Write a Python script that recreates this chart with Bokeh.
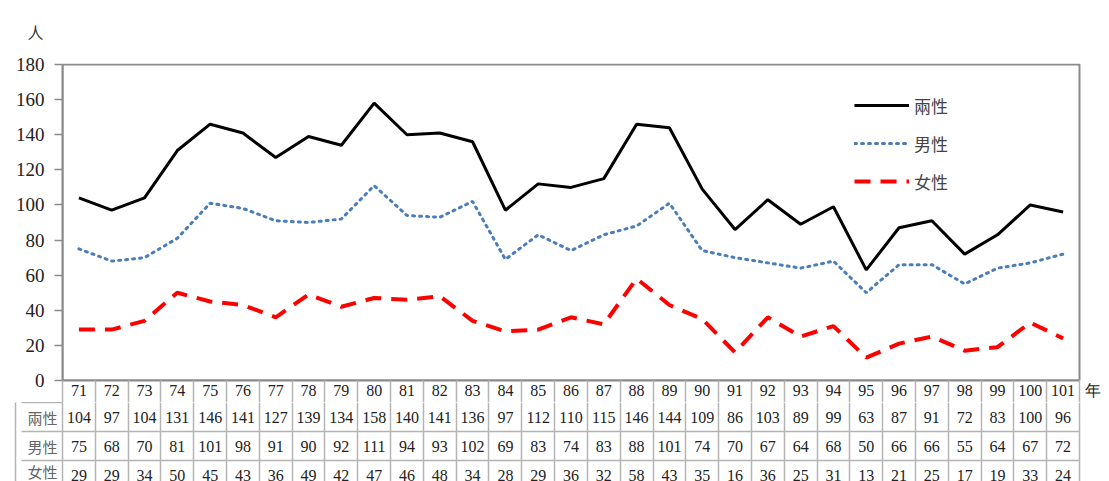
from bokeh.plotting import figure
from bokeh.models import Range1d, FixedTicker, ColumnDataSource, Legend, LegendItem, Grid, LinearAxis
from bokeh.layouts import column
from bokeh.embed import file_html
from bokeh.resources import INLINE
from bokeh.core.properties import value

# ---- data ----
years = ["71", "72", "73", "74", "75", "76", "77", "78", "79", "80", "81", "82", "83", "84", "85",
         "86", "87", "88", "89", "90", "91", "92", "93", "94", "95", "96", "97", "98", "99", "100", "101"]
both = [104, 97, 104, 131, 146, 141, 127, 139, 134, 158, 140, 141, 136, 97, 112,
        110, 115, 146, 144, 109, 86, 103, 89, 99, 63, 87, 91, 72, 83, 100, 96]
male = [75, 68, 70, 81, 101, 98, 91, 90, 92, 111, 94, 93, 102, 69, 83,
        74, 83, 88, 101, 74, 70, 67, 64, 68, 50, 66, 66, 55, 64, 67, 72]
female = [29, 29, 34, 50, 45, 43, 36, 49, 42, 47, 46, 48, 34, 28, 29,
          36, 32, 58, 43, 35, 16, 36, 25, 31, 13, 21, 25, 17, 19, 33, 24]
series_names = ["兩性", "男性", "女性"]
y_ticks = [0, 20, 40, 60, 80, 100, 120, 140, 160, 180]
y_unit = "人"
x_unit = "年"

# ---- layout constants (pixels) ----
W = 1109
PLOT_L, PLOT_R, PLOT_T, PLOT_B = 62, 1079, 64, 380
FRAME_T = PLOT_T - 1
YEAR_ROW = 22
MAIN_H = PLOT_B + YEAR_ROW
TABLE_H = 481 - MAIN_H
ROW_H = 29
LABEL_L = 21
N = len(years)
scale = (PLOT_R - PLOT_L) / N
x_end = N + (W - PLOT_R) / scale
y_max = y_ticks[-1]
y_end = y_max * (PLOT_B - FRAME_T) / (PLOT_B - PLOT_T)
serif = "Liberation Serif"
cjk = "Noto Sans CJK TC"
frame_col = "#8a8a8a"
grid_col = "#b4b4b4"
text_col = "#222222"

xs = [i + 0.5 for i in range(N)]
src = ColumnDataSource(dict(x=xs, both=both, male=male, female=female))

p = figure(width=W, height=MAIN_H, output_backend="svg", toolbar_location=None,
           x_range=Range1d(0, x_end), y_range=Range1d(0, y_end),
           min_border_left=PLOT_L, min_border_right=0, min_border_top=FRAME_T,
           min_border_bottom=YEAR_ROW)
p.grid.visible = False
p.outline_line_color = None

# plot-area box
p.quad(left=[0], right=[N], bottom=[0], top=[y_max], fill_color=None,
       line_color=frame_col, line_width=2)

# y axis
p.yaxis.ticker = FixedTicker(ticks=y_ticks)
p.yaxis.bounds = (0, y_max)
p.yaxis.axis_line_color = frame_col
p.yaxis.axis_line_width = 2
p.yaxis.major_tick_line_color = frame_col
p.yaxis.major_tick_line_width = 1.5
p.yaxis.major_tick_out = 8
p.yaxis.major_tick_in = 0
p.yaxis.minor_tick_line_color = None
p.yaxis.major_label_text_font = serif
p.yaxis.major_label_text_font_size = "19px"
p.yaxis.major_label_text_color = text_col
p.yaxis.major_label_standoff = 10

# x axis = year row of the table (plus the unit label at its right end)
x_unit_pos = N + (1092 - PLOT_R) / scale
p.xaxis.ticker = FixedTicker(ticks=xs + [x_unit_pos], minor_ticks=list(range(N + 1)))
overrides = {x: y for x, y in zip(xs, years)}
overrides[x_unit_pos] = x_unit
p.xaxis.major_label_overrides = overrides
p.xaxis.bounds = (0, N)
p.xaxis.major_tick_out = 0
p.xaxis.major_tick_in = 0
p.xaxis.minor_tick_out = YEAR_ROW
p.xaxis.minor_tick_in = 0
p.xaxis.minor_tick_line_color = grid_col
p.xaxis.minor_tick_line_width = 1.5
p.xaxis.axis_line_color = frame_col
p.xaxis.axis_line_width = 2
p.xaxis.major_label_text_font = serif
p.xaxis.major_label_text_font_size = "16px"
p.xaxis.major_label_text_color = text_col
p.xaxis.major_label_standoff = -YEAR_ROW + 1

r1 = p.line("x", "both", source=src, line_color="black", line_width=3)
r2 = p.line("x", "male", source=src, line_color="#4a7ebb", line_width=3, line_dash="2 5", line_cap="round")
r3 = p.line("x", "female", source=src, line_color="#ff0000", line_width=4, line_dash="16 10")

legend = Legend(items=[LegendItem(label=series_names[0], renderers=[r1]),
                       LegendItem(label=series_names[1], renderers=[r2]),
                       LegendItem(label=series_names[2], renderers=[r3])],
                location=(854 - PLOT_L, PLOT_B - 196), border_line_color=None,
                background_fill_alpha=0, label_text_font=cjk, label_text_font_size="17px",
                label_text_color="#444444", glyph_width=55, glyph_height=30, label_height=30,
                spacing=8, padding=5, label_standoff=5)
p.add_layout(legend)

p.title.text = y_unit
p.title.text_font = cjk
p.title.text_font_size = "16px"
p.title.text_font_style = "normal"
p.title.text_color = "#333333"
p.title.align = "left"
p.title.vertical_align = "top"
p.title.offset = -35
p.title.standoff = 36

# ---- table (value rows) ----
t = figure(width=W, height=TABLE_H, x_axis_type=None, y_axis_type=None, output_backend="svg",
           toolbar_location=None, x_range=Range1d(0, x_end), y_range=Range1d(TABLE_H, 0),
           min_border_left=PLOT_L, min_border_right=0, min_border_top=0, min_border_bottom=0)
t.outline_line_color = None
bounds = [i * ROW_H for i in range(len(series_names) + 1)]
centers = [(bounds[i] + bounds[i + 1]) / 2 for i in range(len(series_names))]
t.add_layout(Grid(dimension=0, ticker=FixedTicker(ticks=list(range(N + 1))),
                  grid_line_color=grid_col, grid_line_width=1.5))
t.add_layout(Grid(dimension=1, ticker=FixedTicker(ticks=bounds), cross_bounds=(0, N),
                  grid_line_color=grid_col, grid_line_width=1.5))

label_w = PLOT_L - LABEL_L
la = LinearAxis(ticker=FixedTicker(ticks=centers, minor_ticks=bounds),
                major_label_overrides={c: n for c, n in zip(centers, series_names)},
                major_tick_out=0, major_tick_in=0, minor_tick_out=label_w, minor_tick_in=0,
                minor_tick_line_color=grid_col, minor_tick_line_width=1.5,
                axis_line_color=grid_col, axis_line_width=1.5,
                major_label_text_font=cjk, major_label_text_font_size="15px",
                major_label_text_color="#666666", major_label_standoff=-(label_w - 5),
                axis_label=" ", axis_label_text_font_size="5px", axis_label_standoff=0)
t.add_layout(la, "left")
lb = LinearAxis(ticker=FixedTicker(ticks=[]), axis_line_color=grid_col, axis_line_width=1.5,
                major_tick_out=0, major_tick_in=0, minor_tick_out=0, minor_tick_in=0,
                major_label_standoff=0)
t.add_layout(lb, "left")

tsrc = ColumnDataSource(dict(x=xs, both=[str(v) for v in both],
                             male=[str(v) for v in male], female=[str(v) for v in female]))
for i, col in enumerate(["both", "male", "female"]):
    t.text(x="x", y=centers[i], text=col, source=tsrc, text_font=value(serif), text_font_size="16px",
           text_color=text_col, text_align="center", text_baseline="middle")

layout = column(p, t, spacing=0)
open("out.html", "w").write(file_html(layout, INLINE))
